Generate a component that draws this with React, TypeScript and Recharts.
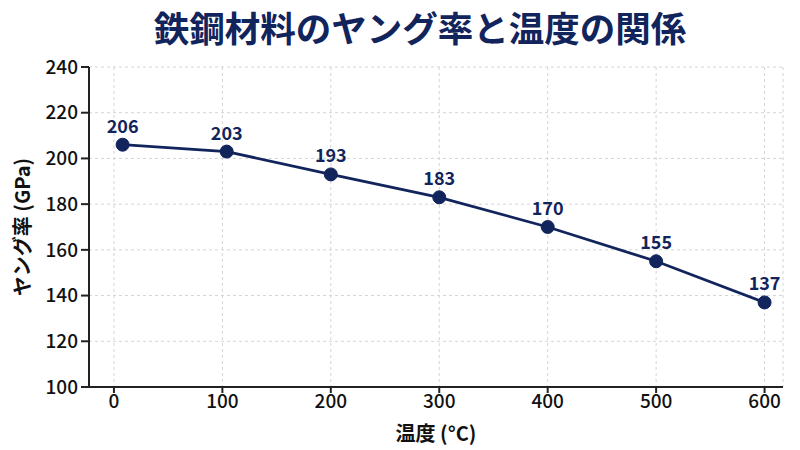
import { LineChart, Line, XAxis, YAxis, CartesianGrid, LabelList, Label } from "recharts";

// 温度 (°C) と ヤング率 (GPa)
const temperatures = [8, 104, 200, 300, 400, 500, 600];
const modulus = [206, 203, 193, 183, 170, 155, 137];
const xTicks = [0, 100, 200, 300, 400, 500, 600];
const yTicks = [100, 120, 140, 160, 180, 200, 220, 240];

const data = temperatures.map((t, i) => ({ temp: t, value: modulus[i] }));

const NAVY = "#12245c";
const FONT = "'Noto Sans CJK JP', 'Noto Sans', sans-serif";

const App = () => {
  return (
    <div style={{ position: "absolute", left: 0, top: 0, width: 800, height: 450, background: "#fff", fontFamily: FONT }}>
      <div
        style={{
          position: "absolute",
          top: 3,
          left: 0,
          width: 840,
          textAlign: "center",
          fontSize: 35.5,
          fontWeight: 700,
          color: NAVY,
          lineHeight: "48px",
        }}
      >
        鉄鋼材料のヤング率と温度の関係
      </div>
      <LineChart
        width={800}
        height={450}
        data={data}
        margin={{ top: 67, right: 17, left: 0, bottom: 0 }}
        style={{ fontFamily: FONT }}
      >
        <CartesianGrid stroke="#d4d4d4" strokeDasharray="3 3" />
        <XAxis
          dataKey="temp"
          type="number"
          domain={[-23, 617]}
          ticks={xTicks}
          allowDataOverflow
          height={63}
          stroke="#222"
          strokeWidth={2}
          tickSize={6}
          tickMargin={2}
          tick={{ fill: "#111", fontSize: 19, fontWeight: 500 }}
        >
          <Label value="温度 (°C)" position="insideBottom" offset={9} fill="#111" fontSize={20} fontWeight={700} />
        </XAxis>
        <YAxis
          type="number"
          domain={[100, 240]}
          ticks={yTicks}
          width={89}
          stroke="#222"
          strokeWidth={2}
          tickSize={8}
          tickMargin={3}
          tick={{ fill: "#111", fontSize: 19, fontWeight: 500 }}
        >
          <Label value="ヤング率 (GPa)" position="center" angle={-90} dx={-22} fill="#111" fontSize={20} fontWeight={700} />
        </YAxis>
        <Line
          type="linear"
          dataKey="value"
          stroke={NAVY}
          strokeWidth={2.8}
          dot={{ r: 6.5, fill: NAVY, stroke: NAVY, strokeWidth: 1 }}
          isAnimationActive={false}
        >
          <LabelList dataKey="value" position="top" offset={12} fill={NAVY} fontSize={18} fontWeight={700} />
        </Line>
      </LineChart>
    </div>
  );
};

export default App;
